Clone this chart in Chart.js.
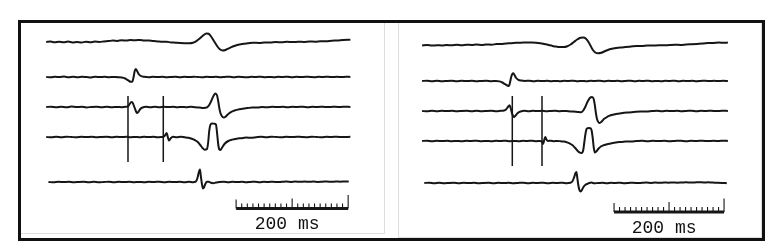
<!DOCTYPE html>
<html>
<head>
<meta charset="utf-8">
<script src="https://cdn.jsdelivr.net/npm/chart.js@4/dist/chart.umd.min.js"></script>
<style>
  body { margin: 0; background: #fff; width: 779px; height: 252px; position: relative; overflow: hidden; }
  .frame { position: absolute; left: 18px; top: 20px; width: 747px; height: 221px; border: 3px solid #111; box-sizing: border-box; }
  .panel { position: absolute; box-sizing: border-box; border: 1px solid #dedede; border-top: none; }
  #panelL { left: 21px; top: 23px; width: 364px; height: 211px; border-left: none; }
  #panelR { left: 398px; top: 23px; width: 364px; height: 215px; }
  canvas { position: absolute; top: 23px; }
  #left { left: 21px; }
  #right { left: 399px; }
</style>
</head>
<body>
<div class="frame"></div>
<div class="panel" id="panelL"></div>
<div class="panel" id="panelR"></div>
<canvas id="left" width="363" height="214"></canvas>
<canvas id="right" width="363" height="214"></canvas>
<script>
// traces are [ms, deflection] pairs, deflection positive = up
const left1 = [[0,0],[8,0.4],[15,-0.3],[23,0.3],[31,-0.2],[39,0.4],[47,-0.4],[55,0.1],[63,-0.5],[71,0.2],[79,-0.3],[87,0.4],[95,0.1],[103,0.6],[111,0.9],[119,1.4],[127,1.1],[135,1.7],[143,1.5],[151,2.0],[159,1.7],[167,2.1],[175,1.6],[183,1.5],[191,0.9],[199,0.6],[207,0.3],[215,0.2],[223,-0.4],[231,-0.7],[239,-1.0],[247,-1.2],[255,-1.3],[262,-0.8],[268,0.8],[274,3.5],[280,6.5],[286,8.5],[290,8.2],[295,5],[300,0.5],[305,-4],[310,-7.3],[315,-8.5],[320,-8],[326,-6.3],[333,-4.5],[341,-3],[350,-2],[360,-1.3],[370,-0.7],[380,-0.9],[390,-0.4],[400,-0.6],[410,-0.1],[420,-0.3],[430,0.2],[440,-0.1],[450,0.3],[460,0.1],[470,0.5],[480,0.3],[490,0.8],[500,0.7],[510,1.3],[520,1.5],[530,2.0],[543,2.2]];
const left2 = [[0,0],[8,-0.3],[16,0.3],[24,-0.1],[32,0.4],[40,-0.3],[48,0.2],[56,-0.2],[64,0.3],[72,0],[80,-0.4],[88,0.2],[96,-0.1],[104,0.3],[112,-0.2],[120,0.1],[128,-0.3],[135,-0.5],[141,-1.5],[146,-3.2],[151,-4.8],[154,-4.5],[156,0],[158,6],[160,8],[162,6.3],[165,3],[169,1],[175,0.2],[183,-0.2],[191,0.3],[199,-0.1],[207,0.2],[215,-0.3],[223,0.1],[231,0.3],[239,-0.2],[247,0.2],[255,-0.1],[263,0.3],[271,0],[279,-0.3],[287,0.2],[295,-0.1],[303,0.3],[311,-0.2],[319,0.1],[327,0.3],[335,-0.2],[343,0.2],[351,0],[359,-0.3],[367,0.2],[375,0],[383,0.3],[391,-0.2],[399,0.1],[407,-0.3],[415,0.2],[423,0],[431,0.3],[439,-0.2],[447,0.2],[455,-0.1],[463,0.3],[471,0],[479,-0.2],[487,0.2],[495,0],[503,0.3],[511,-0.1],[519,0.2],[527,0],[535,0.2],[543,0.1]];
const left3 = [[0,0],[9,0.3],[18,-0.3],[27,0.2],[36,-0.2],[45,0.4],[54,-0.1],[63,0.3],[72,-0.4],[81,0.1],[90,0.3],[99,-0.2],[108,0.2],[117,-0.3],[126,0.1],[135,-0.2],[142,0.2],[146,0.8],[149,3],[152,5],[154,4.5],[157,0.5],[160,-4],[162,-6],[165,-4.5],[168,-2],[172,-0.5],[178,0.2],[186,-0.3],[194,0.2],[202,-0.2],[210,0.3],[218,-0.1],[226,0.2],[234,-0.3],[242,0.1],[250,-0.2],[258,0.2],[266,-0.3],[274,-0.6],[281,-0.9],[287,-0.4],[291,2],[295,6.5],[299,11.5],[302,13.5],[305,11.5],[307,6],[309,-1],[311,-6],[314,-9.5],[317,-10.5],[320,-9.8],[324,-7.5],[329,-5.3],[335,-3.8],[342,-2.6],[350,-1.8],[359,-1.1],[368,-0.5],[377,-0.6],[386,0],[395,-0.3],[404,0.2],[413,-0.1],[422,0.3],[431,-0.2],[440,0.2],[449,0],[458,0.3],[467,-0.2],[476,0.2],[485,0],[494,0.3],[503,-0.1],[512,0.3],[521,0],[530,0.2],[543,0.1]];
const left4 = [[0,0],[9,-0.3],[18,0.2],[27,-0.2],[36,0.3],[45,0],[54,-0.3],[63,0.2],[72,-0.1],[81,0.3],[90,-0.3],[99,0.1],[108,0.3],[117,-0.2],[126,0.2],[135,-0.1],[143,0.3],[151,-0.2],[159,0.1],[167,-0.3],[175,0.2],[183,-0.1],[191,0.3],[199,-0.2],[205,0],[209,0.3],[212,1.5],[215,4],[217,0],[219,-3.5],[222,-1.5],[226,0.2],[233,-0.2],[240,0.2],[247,-0.3],[254,-0.8],[260,-1.8],[265,-3],[270,-4.8],[275,-8],[279,-11],[283,-12.8],[287,-12],[289,-6],[291,6],[293,12],[296,13.5],[300,13.3],[303,12.5],[305,4],[307,-7],[309,-12.5],[311,-13],[314,-10.5],[319,-6.5],[325,-4],[332,-2.6],[340,-1.7],[348,-1.2],[357,-0.6],[366,-0.8],[375,-0.2],[384,0.2],[393,-0.2],[402,0.3],[411,0],[420,-0.3],[429,0.2],[438,-0.1],[447,0.3],[456,0],[465,-0.2],[474,0.3],[483,0],[492,-0.3],[501,0.2],[510,0],[519,0.3],[528,-0.1],[543,0.2]];
const left5 = [[4,0],[13,-0.3],[22,0.2],[31,-0.1],[40,0.3],[49,-0.3],[58,0.1],[67,0.3],[76,-0.2],[85,0.2],[94,-0.3],[103,0],[112,0.3],[121,-0.2],[130,0.2],[139,-0.1],[148,0.3],[157,-0.2],[166,0.1],[175,-0.3],[184,0.2],[193,0],[202,0.3],[211,-0.2],[220,0.2],[229,-0.1],[238,0.3],[247,-0.2],[255,0.2],[262,-0.3],[267,0.3],[270,4],[273,11],[274.5,12.5],[276,6],[278,-2],[280,-6.5],[282,-5],[284,-2],[287,0.2],[290,0.3],[294,-0.8],[298,-1.2],[303,-0.6],[309,0],[317,0.3],[325,-0.2],[333,0.2],[341,-0.1],[349,0.3],[357,-0.2],[365,0.1],[373,0.3],[381,-0.2],[389,0.2],[397,0],[405,0.3],[413,-0.1],[421,0.2],[429,0.4],[437,0.1],[445,0.4],[453,0.2],[461,0.5],[469,0.2],[477,0.4],[485,0.1],[493,0.3],[501,0.5],[509,0.2],[517,0.5],[525,0.3],[533,0.6],[540,0.4]];

const right1 = [[0,-0.5],[9,-0.1],[18,-0.6],[27,-0.2],[36,-0.5],[45,0],[54,-0.3],[63,0.2],[72,-0.2],[81,0.3],[90,0],[99,0.4],[108,0.1],[117,0.5],[126,0.3],[135,0.9],[144,1.1],[153,1.6],[162,1.8],[171,2.2],[180,2.3],[189,2.6],[198,2.5],[207,2.3],[215,1.8],[222,1.0],[230,0],[237,-0.9],[244,-1.6],[251,-2],[258,-2],[264,-1.2],[270,0.5],[276,3],[282,5.5],[288,7.3],[293,7.5],[298,6.3],[302,3.5],[306,-0.5],[310,-4.5],[315,-7.5],[320,-8.3],[326,-7.8],[333,-6],[341,-4.3],[350,-3.2],[360,-2.6],[370,-2],[380,-1.5],[390,-1],[400,-0.9],[410,-0.5],[420,-0.6],[430,-0.2],[440,-0.3],[450,0],[460,0.2],[470,0.1],[480,0.5],[490,0.8],[500,1.1],[510,1.4],[520,1.9],[530,2.1],[540,2.4],[548,2.2],[556,2.4]];
const right2 = [[0,0],[9,0.3],[18,-0.2],[27,0.2],[36,-0.3],[45,0.1],[54,0.3],[63,-0.2],[72,0.2],[81,-0.1],[90,0.3],[99,-0.3],[108,0.1],[117,0.2],[126,-0.2],[134,0.1],[141,-0.4],[146,-1.5],[151,-3.2],[155,-4.5],[158,-5],[160,-1],[162,4],[164,7],[166,7.7],[168,6],[171,3],[175,1.2],[180,0.4],[187,0],[195,0.3],[203,-0.2],[211,0.2],[219,-0.1],[227,0.3],[235,-0.2],[243,0.1],[251,-0.3],[259,0.2],[267,0],[275,0.3],[283,-0.2],[291,0.1],[299,-0.3],[307,0.2],[315,0],[323,0.3],[331,-0.2],[339,0.2],[347,-0.1],[355,0.3],[363,-0.2],[371,0.1],[379,0.3],[387,-0.2],[395,0.2],[403,0],[411,0.3],[419,-0.2],[427,0.1],[435,-0.3],[443,0.2],[451,0],[459,0.3],[467,-0.2],[475,0.2],[483,-0.1],[491,0.3],[499,-0.2],[507,0.1],[515,0.3],[523,-0.1],[531,0.2],[539,0],[547,0.2],[556,0]];
const right3 = [[0,0],[9,-0.3],[18,0.2],[27,-0.2],[36,0.3],[45,-0.1],[54,0.2],[63,-0.3],[72,0.1],[81,0.3],[90,-0.2],[99,0.2],[108,-0.3],[117,0.1],[126,0.3],[135,-0.2],[143,0.2],[149,0.5],[153,1.8],[156,4],[159,5.7],[161,3],[163,-1.5],[165,-4.5],[167,-6],[170,-4.5],[174,-2],[179,-0.5],[186,0.2],[194,-0.2],[202,0.3],[210,-0.1],[218,0.2],[226,-0.3],[234,0.1],[242,0.3],[250,-0.2],[258,0.1],[266,-0.3],[274,-0.5],[282,-0.9],[289,-1.3],[293,0.5],[297,4.5],[301,9.5],[305,13],[309,14],[312,12],[314,6],[316,-2],[318,-8],[321,-11.5],[323,-12],[326,-10.8],[331,-7.8],[337,-5.7],[343,-4.3],[352,-3.1],[362,-2.2],[373,-1.5],[385,-1],[397,-0.5],[408,-0.4],[418,0],[427,0.3],[436,-0.2],[445,0.2],[454,-0.1],[463,0.3],[472,-0.2],[481,0.1],[490,0.3],[499,-0.2],[508,0.2],[517,0],[526,0.3],[535,-0.1],[545,0.2],[556,0.1]];
const right4 = [[0,0],[9,0.3],[18,-0.3],[27,0.2],[36,-0.1],[45,0.3],[54,-0.2],[63,0.1],[72,-0.3],[81,0.2],[90,0],[99,0.3],[108,-0.2],[117,0.1],[126,-0.3],[135,0.2],[144,0],[152,0.3],[160,-0.2],[168,0.1],[176,-0.3],[184,0.2],[192,0],[200,0.3],[208,-0.2],[214,0.1],[218,-0.6],[220,-3],[222,1],[224,4],[226,1.5],[229,0],[234,0.3],[240,-0.2],[246,0.1],[252,-0.3],[258,-0.6],[263,-1.3],[268,-2.3],[273,-4],[278,-6.8],[283,-10],[287,-11.7],[290,-12],[293,-9],[295,-1],[297,7],[299,12],[302,13],[306,12.8],[308,11],[310,4],[312,-6],[314,-11.5],[317,-10.2],[321,-7.5],[325,-5.5],[331,-4],[338,-3],[345,-2.2],[352,-1.5],[361,-1],[370,-0.6],[380,-0.5],[390,-0.1],[400,0.2],[410,-0.2],[420,0.2],[430,-0.1],[440,0.3],[450,-0.2],[460,0.1],[470,0.3],[480,-0.2],[490,0.2],[500,0],[510,0.3],[520,-0.1],[530,0.2],[540,0],[548,0.3],[556,0.1]];
const right5 = [[4,0],[13,0.3],[22,-0.2],[31,0.2],[40,-0.3],[49,0.1],[58,0.3],[67,-0.2],[76,0.2],[85,-0.1],[94,0.3],[103,-0.3],[112,0.1],[121,0.3],[130,-0.2],[139,0.2],[148,-0.1],[157,0.3],[166,-0.2],[175,0.1],[184,0.3],[193,-0.2],[202,0.2],[211,0],[220,0.3],[229,-0.2],[238,0.2],[247,0],[255,0.3],[263,-0.2],[269,0.2],[273,1.5],[276,5],[279,10],[280.5,11],[282,6],[284,-2],[286,-7],[288.5,-8.5],[291,-6.5],[294,-3.5],[297,-1.8],[300,-1],[304,0],[308,0.4],[313,-0.3],[320,0],[328,0.3],[336,-0.2],[344,0.2],[352,0],[360,0.3],[368,-0.2],[376,0.1],[384,0.3],[392,-0.1],[400,0.2],[408,0.4],[416,0.1],[424,0.4],[432,0.2],[440,0.5],[448,0.3],[456,0.6],[464,0.3],[472,0.5],[480,0.7],[488,0.4],[496,0.6],[504,0.8],[512,0.5],[520,0.7],[528,0.4],[536,0.3],[546,0.1],[554,-0.2]];

// channel baselines (top to bottom)
const leftOffsets = [195, 160, 130, 100, 55];
const rightOffsets = [192, 156, 126, 96, 54];

// stimulus markers: [ms, top, bottom]
const leftMarkers = [[146, 141, 75], [209, 141, 75]];
const rightMarkers = [[164, 141, 71], [218, 141, 71]];

// scale bar: start ms, level, label position
const leftBar = { start: 339, level: 28.5, labelX: 430, labelY: 13 };
const rightBar = { start: 349, level: 25, labelX: 440, labelY: 9 };
const barLength = 200; // ms
const barTickStep = 10;
const barLabel = '200 ms';

const leftRange = [-45, 603];
const rightRange = [-42, 618];

const ink = '#161616';

const scaleLabelPlugin = {
  id: 'scaleLabel',
  afterDatasetsDraw(chart, args, opts) {
    const ctx = chart.ctx;
    ctx.save();
    ctx.font = '18px "Liberation Mono", "DejaVu Sans Mono", monospace';
    ctx.fillStyle = '#111';
    ctx.textAlign = 'center';
    ctx.textBaseline = 'middle';
    ctx.fillText(opts.text, chart.scales.x.getPixelForValue(opts.x), chart.scales.y.getPixelForValue(opts.y));
    ctx.restore();
  }
};

function barTicks(bar) {
  const pts = [];
  for (let t = 0; t <= barLength; t += barTickStep) {
    let h = 5;
    if (t === 0) h = 9;
    if (t === barLength / 2) h = 10;
    if (t === barLength) h = 13.5;
    pts.push({ x: bar.start + t, y: bar.level }, { x: bar.start + t, y: bar.level + h }, { x: bar.start + t, y: null });
  }
  return pts;
}

function makeChart(id, traces, offsets, markers, bar, range) {
  const datasets = traces.map((tr, i) => ({
    data: tr.map(([t, v]) => ({ x: t, y: offsets[i] + v })),
    borderColor: ink,
    borderWidth: 2,
    cubicInterpolationMode: 'monotone'
  }));
  markers.forEach(([t, top, bottom]) => {
    datasets.push({ data: [{ x: t, y: top }, { x: t, y: bottom }], borderColor: ink, borderWidth: 1.5 });
  });
  datasets.push({
    data: [{ x: bar.start, y: bar.level }, { x: bar.start + barLength, y: bar.level }],
    borderColor: ink, borderWidth: 3
  });
  datasets.push({ data: barTicks(bar), borderColor: ink, borderWidth: 1.1, spanGaps: false });

  return new Chart(document.getElementById(id), {
    type: 'line',
    data: { datasets },
    options: {
      responsive: false,
      animation: false,
      devicePixelRatio: 1,
      layout: { padding: 0 },
      elements: { point: { radius: 0 } },
      plugins: {
        legend: { display: false },
        tooltip: { enabled: false },
        scaleLabel: { text: barLabel, x: bar.labelX, y: bar.labelY }
      },
      scales: {
        x: { type: 'linear', min: range[0], max: range[1], display: false },
        y: { min: 0, max: 214, display: false }
      }
    },
    plugins: [scaleLabelPlugin]
  });
}

makeChart('left', [left1, left2, left3, left4, left5], leftOffsets, leftMarkers, leftBar, leftRange);
makeChart('right', [right1, right2, right3, right4, right5], rightOffsets, rightMarkers, rightBar, rightRange);
</script>
</body>
</html>
